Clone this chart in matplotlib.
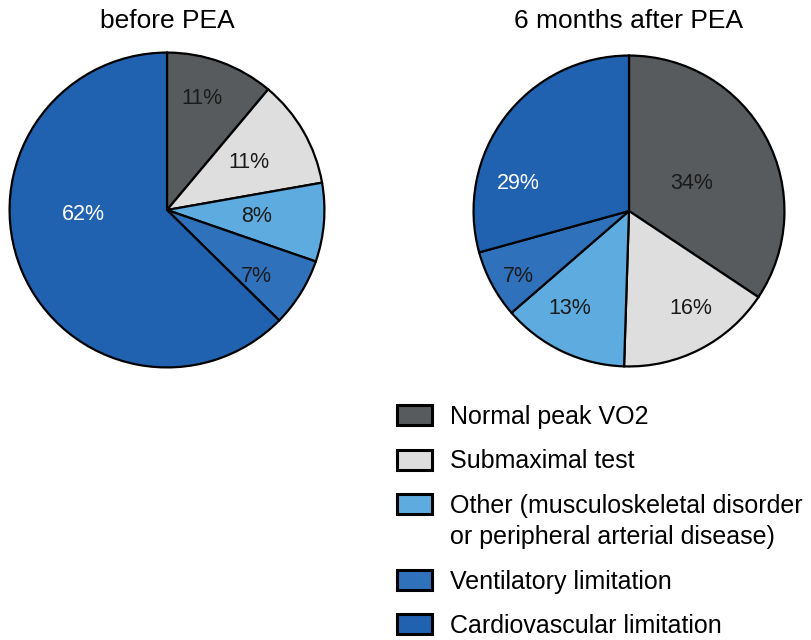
import matplotlib.pyplot as plt
from matplotlib.patches import Rectangle

plt.rcParams['font.family'] = ['Liberation Sans', 'DejaVu Sans']

# data
categories = [
    "Normal peak VO2",
    "Submaximal test",
    "Other (musculoskeletal disorder\nor peripheral arterial disease)",
    "Ventilatory limitation",
    "Cardiovascular limitation",
]
before_pct = [11, 11, 8, 7, 62]
after_pct = [34, 16, 13, 7, 29]
titles = ["before PEA", "6 months after PEA"]

colors = ["#585b5d", "#dedede", "#5eacdf", "#3071bb", "#2062af"]
text_colors = ["#1a1a1a", "#1a1a1a", "#1a1a1a", "#1a1a1a", "white"]

# where the percent labels sit inside each pie (radius = 1)
before_label_xy = [(0.22, 0.71), (0.52, 0.30), (0.57, -0.04), (0.57, -0.42), (-0.53, -0.03)]
after_label_xy = [(0.40, 0.18), (0.40, -0.63), (-0.38, -0.63), (-0.71, -0.42), (-0.71, 0.18)]

W, H = 811, 640
fig = plt.figure(figsize=(W / 100, H / 100), dpi=100)


def pie_axes(cx, cy, r):
    # axes placed in pixel units
    return fig.add_axes([(cx - r) / W, 1 - (cy + r) / H, 2 * r / W, 2 * r / H])


pies = [
    (pie_axes(167, 210, 159), before_pct, before_label_xy, titles[0], 167),
    (pie_axes(629, 211, 157), after_pct, after_label_xy, titles[1], 629),
]

for ax, vals, label_xy, title, cx in pies:
    ax.pie(
        vals,
        colors=colors,
        startangle=90,
        counterclock=False,
        wedgeprops=dict(edgecolor="black", linewidth=1.6),
    )
    for v, (x, y), tc in zip(vals, label_xy, text_colors):
        ax.text(x, y, f"{v}%", ha="center", va="center", fontsize=15.5, color=tc)
    ax.set_xlim(-1.01, 1.01)
    ax.set_ylim(-1.01, 1.01)
    ax.set_aspect("equal")
    ax.axis("off")
    fig.text(cx / W, 1 - 28 / H, title, ha="center", va="baseline", fontsize=19)

# legend, drawn by hand so the two-line entry lines up like the original
extra = 0
for i, (cat, col) in enumerate(zip(categories, colors)):
    yc = 415 + 44.5 * i + 31 * extra
    box = Rectangle(
        (397 / W, 1 - (yc + 10) / H), 35 / W, 20 / H,
        transform=fig.transFigure, facecolor=col, edgecolor="black", linewidth=2.2,
    )
    fig.add_artist(box)
    lines = cat.split("\n")
    for k, line in enumerate(lines):
        fig.text(450 / W, 1 - (yc + 9 + 31 * k) / H, line, ha="left", va="baseline", fontsize=18)
    extra += len(lines) - 1

fig.savefig("out.png", dpi=100)
